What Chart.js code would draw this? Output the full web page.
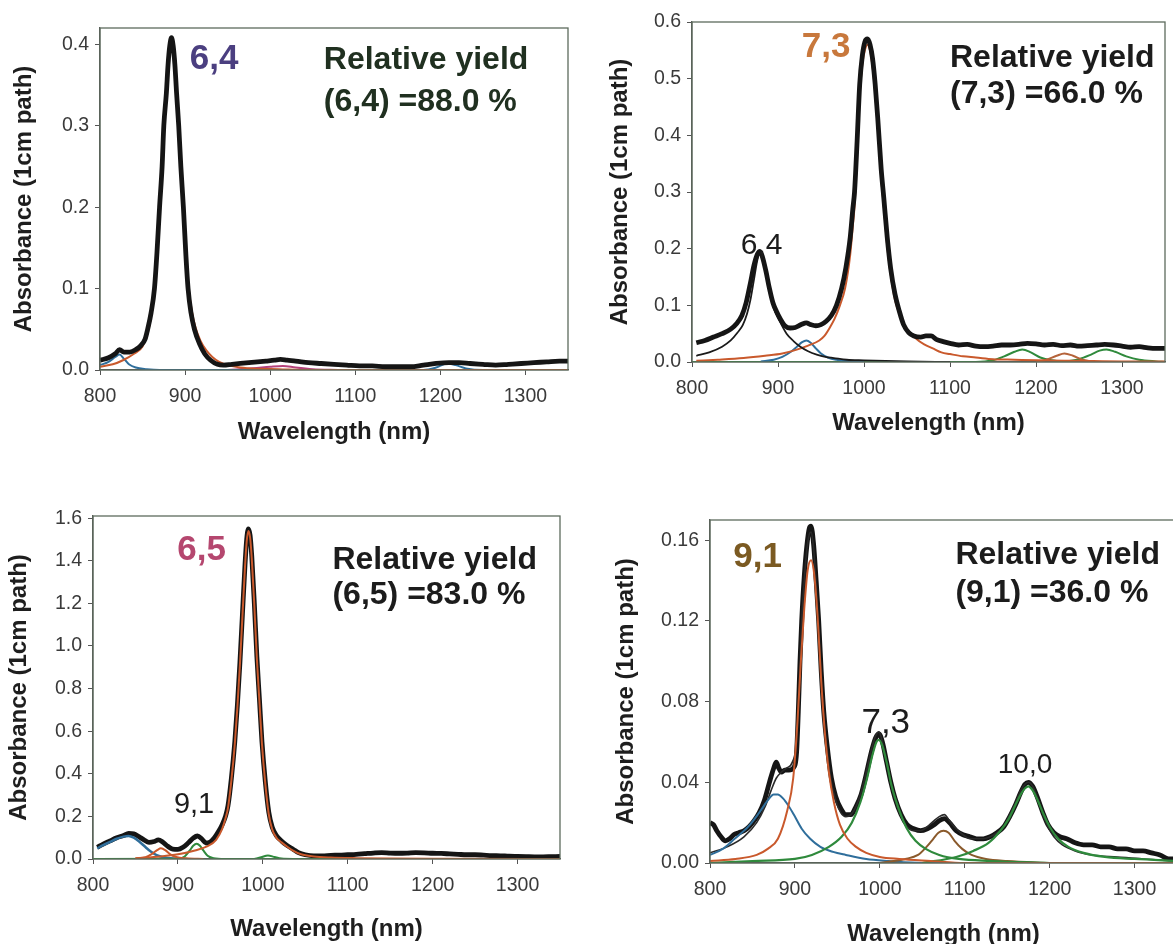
<!DOCTYPE html>
<html>
<head>
<meta charset="utf-8">
<script src="https://cdn.jsdelivr.net/npm/chart.js@4.4.1/dist/chart.umd.min.js"></script>
<style>
  body { margin: 0; background: #fff; width: 1173px; height: 944px; overflow: hidden; position: relative; }
  canvas { position: absolute; }
</style>
</head>
<body>
<canvas id="c64" width="586" height="470" style="left:0;top:0"></canvas>
<canvas id="c73" width="587" height="470" style="left:586px;top:0"></canvas>
<canvas id="c65" width="586" height="480" style="left:0;top:470px"></canvas>
<canvas id="c91" width="600" height="480" style="left:586px;top:470px"></canvas>
<script>
// wavelength ticks shared by all four spectra
var nmTicks = [800, 900, 1000, 1100, 1200, 1300];

// ---- (6,4) sample ----
var abs64Ticks = [0, 0.1, 0.2, 0.3, 0.4];
var meas64 = [[800,0.012],[810,0.015],[818,0.02],[823,0.025],[828,0.022],[835,0.022],[842,0.025],[848,0.03],[853,0.038],[856,0.05],[860,0.07],[864,0.1],[867,0.145],[870,0.2],[873,0.25],[875,0.3],[878,0.34],[880,0.375],[882,0.398],[884,0.408],[886,0.398],[888,0.375],[890,0.34],[892.5,0.3],[895,0.25],[898,0.2],[901,0.14],[903.5,0.1],[907,0.07],[911,0.05],[917,0.032],[923,0.02],[930,0.012],[938,0.007],[945,0.006],[955,0.007],[965,0.008],[975,0.009],[985,0.01],[995,0.011],[1005,0.012],[1012,0.013],[1020,0.012],[1030,0.011],[1045,0.009],[1060,0.008],[1075,0.007],[1090,0.006],[1105,0.005],[1120,0.005],[1135,0.004],[1150,0.004],[1165,0.004],[1180,0.006],[1195,0.008],[1210,0.009],[1222,0.009],[1235,0.008],[1250,0.007],[1265,0.006],[1280,0.007],[1295,0.008],[1310,0.009],[1325,0.01],[1340,0.011],[1350,0.011]];
var fit64main = [[800,0.004],[815,0.007],[827,0.012],[840,0.02],[850,0.029],[856,0.045],[860,0.066],[864,0.097],[867,0.14],[870,0.195],[873,0.245],[875,0.295],[878,0.335],[880,0.37],[882,0.393],[884,0.402],[886,0.393],[888,0.37],[890,0.335],[892.5,0.295],[895,0.245],[898,0.195],[901,0.142],[904,0.102],[908,0.072],[912,0.053],[918,0.036],[925,0.024],[932,0.016],[940,0.01],[950,0.006],[965,0.003],[985,0.0015],[1010,0.001],[1040,0],[1350,0]];
var fit64blue = [[800,0.006],[810,0.01],[818,0.016],[823,0.019],[828,0.014],[834,0.007],[842,0.003],[855,0.001],[870,0],[1180,0],[1195,0.003],[1208,0.008],[1218,0.006],[1230,0.002],[1250,0],[1350,0]];
var fit64pink = [[950,0],[980,0.002],[1000,0.004],[1015,0.005],[1030,0.003],[1050,0.001],[1080,0]];

// ---- (7,3) sample ----
var abs73Ticks = [0, 0.1, 0.2, 0.3, 0.4, 0.5, 0.6];
var meas73 = [[805,0.034],[815,0.038],[825,0.044],[835,0.05],[845,0.058],[852,0.068],[858,0.082],[863,0.105],[868,0.14],[872,0.17],[876,0.19],[879,0.195],[882,0.185],[886,0.16],[890,0.13],[894,0.105],[898,0.09],[903,0.075],[908,0.064],[914,0.06],[920,0.061],[927,0.066],[933,0.069],[938,0.066],[944,0.064],[950,0.066],[956,0.072],[962,0.082],[968,0.1],[974,0.13],[979,0.167],[984,0.22],[987,0.27],[989,0.3],[992,0.39],[995,0.49],[998,0.54],[1001,0.565],[1004,0.57],[1007,0.56],[1010,0.535],[1013,0.49],[1016,0.43],[1020,0.34],[1023,0.29],[1027,0.22],[1031,0.165],[1036,0.12],[1041,0.09],[1046,0.066],[1052,0.052],[1058,0.046],[1066,0.044],[1072,0.046],[1078,0.046],[1084,0.04],[1092,0.036],[1100,0.033],[1110,0.03],[1120,0.031],[1130,0.028],[1140,0.027],[1150,0.028],[1160,0.03],[1170,0.03],[1180,0.031],[1190,0.033],[1200,0.032],[1210,0.03],[1220,0.031],[1230,0.029],[1240,0.03],[1250,0.028],[1260,0.029],[1270,0.03],[1280,0.031],[1290,0.03],[1300,0.028],[1310,0.026],[1320,0.027],[1330,0.025],[1340,0.024],[1350,0.024]];
var fit73peak64 = [[805,0.011],[820,0.017],[835,0.027],[845,0.038],[853,0.052],[859,0.065],[864,0.085],[868,0.11],[872,0.145],[876,0.18],[879,0.193],[882,0.185],[886,0.155],[890,0.125],[895,0.095],[902,0.072],[910,0.05],[918,0.037],[926,0.027],[935,0.019],[945,0.013],[955,0.009],[965,0.007],[980,0.004],[1000,0.003],[1050,0.001],[1100,0]];
var fit73main = [[805,0.002],[830,0.004],[860,0.007],[885,0.011],[905,0.015],[920,0.021],[935,0.029],[948,0.038],[954,0.046],[960,0.06],[966,0.077],[972,0.1],[978,0.13],[984,0.19],[987,0.24],[989,0.275],[992,0.37],[995,0.47],[998,0.525],[1001,0.55],[1004,0.56],[1007,0.55],[1010,0.52],[1013,0.475],[1016,0.415],[1020,0.325],[1023,0.275],[1027,0.205],[1031,0.155],[1036,0.11],[1042,0.082],[1050,0.058],[1060,0.042],[1070,0.031],[1080,0.024],[1090,0.017],[1100,0.014],[1115,0.01],[1130,0.008],[1150,0.005],[1175,0.004],[1200,0.003],[1250,0.002],[1300,0.001],[1350,0.001]];
var fit73blue = [[880,0.001],[895,0.004],[905,0.009],[915,0.018],[922,0.027],[928,0.035],[933,0.038],[938,0.034],[944,0.024],[950,0.015],[958,0.008],[968,0.004],[985,0.001],[1000,0]];
var fit73greenA = [[800,0],[1130,0],[1150,0.003],[1163,0.01],[1175,0.018],[1184,0.022],[1194,0.017],[1205,0.008],[1218,0.003],[1240,0]];
var fit73brown = [[1200,0],[1212,0.004],[1224,0.011],[1233,0.015],[1243,0.011],[1254,0.004],[1270,0]];
var fit73greenB = [[1230,0],[1250,0.005],[1264,0.013],[1274,0.02],[1282,0.022],[1292,0.018],[1305,0.01],[1320,0.004],[1340,0.001],[1350,0]];

// ---- (6,5) sample ----
var abs65Ticks = [0, 0.2, 0.4, 0.6, 0.8, 1.0, 1.2, 1.4, 1.6];
var meas65 = [[805,0.055],[812,0.07],[820,0.085],[828,0.1],[836,0.11],[842,0.12],[848,0.118],[854,0.105],[860,0.09],[866,0.078],[872,0.082],[877,0.09],[882,0.08],[888,0.06],[894,0.046],[900,0.045],[906,0.055],[912,0.075],[918,0.098],[923,0.108],[928,0.095],[933,0.075],[938,0.08],[943,0.1],[948,0.13],[952,0.16],[956,0.2],[959,0.25],[963,0.38],[967,0.55],[970,0.72],[973,0.92],[976,1.15],[979,1.38],[981,1.5],[983,1.55],[985,1.52],[987,1.42],[990,1.2],[993,0.95],[996,0.75],[999,0.55],[1003,0.36],[1007,0.22],[1011,0.15],[1016,0.11],[1022,0.085],[1028,0.065],[1036,0.045],[1042,0.03],[1050,0.02],[1060,0.015],[1070,0.015],[1080,0.017],[1090,0.018],[1100,0.02],[1110,0.022],[1120,0.025],[1130,0.028],[1140,0.03],[1150,0.028],[1160,0.027],[1170,0.028],[1180,0.03],[1190,0.029],[1200,0.027],[1210,0.026],[1220,0.024],[1230,0.022],[1240,0.02],[1250,0.02],[1260,0.018],[1270,0.016],[1280,0.015],[1290,0.013],[1300,0.012],[1310,0.011],[1320,0.01],[1330,0.01],[1340,0.011],[1350,0.012]];
var fit65main = [[850,0.003],[880,0.012],[900,0.022],[920,0.04],[935,0.06],[945,0.09],[952,0.14],[956,0.19],[959,0.24],[963,0.37],[967,0.54],[970,0.71],[973,0.91],[976,1.14],[979,1.37],[981,1.49],[983,1.54],[985,1.51],[987,1.41],[990,1.19],[993,0.94],[996,0.74],[999,0.54],[1003,0.35],[1007,0.21],[1011,0.14],[1016,0.1],[1022,0.078],[1028,0.06],[1035,0.04],[1045,0.022],[1060,0.012],[1080,0.007],[1110,0.004],[1150,0.002],[1200,0.001],[1350,0]];
var fit65orange880 = [[850,0.002],[862,0.008],[870,0.025],[876,0.043],[880,0.05],[885,0.042],[891,0.022],[898,0.009],[910,0.003],[930,0]];
var fit65blue = [[805,0.05],[812,0.065],[820,0.08],[828,0.095],[836,0.105],[842,0.108],[848,0.1],[855,0.08],[862,0.055],[868,0.035],[875,0.018],[883,0.008],[895,0.002],[910,0]];
var fit65green91 = [[800,0],[900,0.001],[908,0.012],[914,0.04],[918,0.062],[922,0.072],[926,0.062],[930,0.04],[935,0.015],[942,0.004],[955,0],[1350,0]];
var fit65green1006 = [[990,0],[998,0.008],[1006,0.017],[1014,0.009],[1022,0.002],[1040,0]];

// ---- (9,1) sample ----
var abs91Ticks = [0, 0.04, 0.08, 0.12, 0.16];
var meas91 = [[800,0.02],[804,0.019],[808,0.016],[813,0.013],[818,0.011],[823,0.012],[828,0.014],[834,0.015],[840,0.016],[846,0.018],[852,0.021],[858,0.025],[864,0.031],[870,0.04],[875,0.047],[878,0.05],[881,0.047],[884,0.045],[888,0.046],[893,0.046],[898,0.047],[902,0.055],[904,0.075],[906,0.1],[908,0.12],[911,0.142],[914,0.157],[917,0.166],[919,0.167],[922,0.158],[925,0.14],[928,0.12],[931,0.095],[934,0.075],[938,0.058],[943,0.042],[948,0.033],[954,0.027],[960,0.024],[966,0.024],[972,0.028],[978,0.034],[984,0.044],[990,0.055],[995,0.062],[999,0.064],[1003,0.06],[1008,0.05],[1013,0.04],[1018,0.032],[1025,0.024],[1032,0.019],[1040,0.017],[1048,0.016],[1056,0.017],[1064,0.019],[1070,0.021],[1076,0.022],[1082,0.02],[1090,0.016],[1098,0.014],[1106,0.013],[1114,0.012],[1122,0.012],[1130,0.013],[1138,0.015],[1146,0.018],[1153,0.023],[1160,0.029],[1166,0.035],[1171,0.039],[1175,0.04],[1180,0.038],[1186,0.032],[1192,0.025],[1198,0.019],[1205,0.015],[1212,0.013],[1220,0.012],[1230,0.01],[1240,0.009],[1250,0.009],[1260,0.008],[1270,0.008],[1280,0.007],[1290,0.007],[1300,0.006],[1310,0.006],[1320,0.005],[1330,0.004],[1340,0.002],[1350,0.002]];
var fit91sum = [[800,0.005],[820,0.008],[840,0.013],[855,0.02],[865,0.028],[872,0.036],[878,0.042],[884,0.045],[890,0.047],[897,0.05],[902,0.06],[904,0.077],[906,0.1],[908,0.12],[911,0.14],[914,0.155],[917,0.163],[919,0.164],[922,0.156],[925,0.138],[928,0.118],[931,0.093],[934,0.073],[938,0.056],[943,0.04],[948,0.031],[954,0.025],[960,0.023],[966,0.024],[972,0.028],[978,0.035],[984,0.045],[990,0.056],[995,0.063],[999,0.065],[1003,0.06],[1008,0.05],[1013,0.04],[1018,0.031],[1025,0.023],[1032,0.018],[1040,0.016],[1048,0.016],[1056,0.018],[1064,0.021],[1070,0.023],[1076,0.024],[1082,0.021],[1090,0.017],[1098,0.014],[1106,0.012],[1114,0.012],[1122,0.012],[1130,0.013],[1138,0.015],[1146,0.018],[1153,0.024],[1160,0.03],[1166,0.036],[1171,0.039],[1175,0.04],[1180,0.038],[1186,0.032],[1192,0.024],[1198,0.018],[1205,0.013],[1215,0.009],[1230,0.006],[1250,0.004],[1280,0.003],[1310,0.002],[1350,0.001]];
var fit91blue = [[800,0.004],[815,0.007],[829,0.012],[845,0.018],[858,0.025],[868,0.031],[875,0.034],[880,0.034],[886,0.032],[893,0.028],[900,0.023],[908,0.017],[918,0.012],[930,0.008],[945,0.0055],[960,0.004],[984,0.002],[1010,0.001],[1050,0],[1350,0]];
var fit91main = [[800,0.001],[830,0.002],[855,0.004],[868,0.007],[880,0.012],[891,0.026],[898,0.042],[903,0.07],[907,0.1],[911,0.126],[915,0.145],[919,0.15],[923,0.142],[927,0.12],[931,0.09],[935,0.066],[940,0.045],[946,0.03],[953,0.019],[962,0.012],[972,0.008],[984,0.005],[1000,0.003],[1023,0.002],[1060,0.001],[1100,0],[1350,0]];
var fit91green73 = [[800,0],[850,0.001],[900,0.002],[920,0.004],[940,0.008],[955,0.013],[967,0.02],[977,0.03],[985,0.042],[991,0.053],[996,0.06],[999,0.061],[1003,0.058],[1008,0.05],[1014,0.038],[1023,0.026],[1032,0.017],[1042,0.011],[1054,0.007],[1070,0.004],[1093,0.002],[1130,0.001],[1200,0]];
var fit91brown = [[1000,0],[1030,0.002],[1045,0.004],[1055,0.008],[1063,0.012],[1069,0.015],[1075,0.016],[1081,0.015],[1088,0.011],[1097,0.007],[1108,0.004],[1125,0.002],[1150,0.001],[1200,0]];
var fit91green100 = [[1050,0],[1090,0.003],[1110,0.006],[1128,0.01],[1142,0.016],[1152,0.022],[1160,0.029],[1166,0.034],[1171,0.037],[1175,0.038],[1180,0.036],[1186,0.031],[1193,0.024],[1200,0.018],[1210,0.012],[1222,0.008],[1240,0.005],[1265,0.003],[1300,0.002],[1350,0.001]];

var BLACK = '#151515', ORANGE = '#c9592c', BLUE = '#2f6e9b', GREEN = '#2f8a3c',
    BROWN = '#8a5a2c', PINK = '#b5427b', RUST = '#b5633a';
var FONT = '"Liberation Sans", Arial, sans-serif';

function line(points, color, width) {
  return {
    data: points.map(function (p) { return { x: p[0], y: p[1] }; }),
    borderColor: color,
    borderWidth: width,
    pointRadius: 0,
    fill: false,
    tension: 0.4,
    cubicInterpolationMode: 'monotone'
  };
}

// frame round the plot area and the text annotations
var panelText = {
  id: 'panelText',
  afterDraw: function (chart, args, opts) {
    var ctx = chart.ctx, a = chart.chartArea;
    ctx.save();
    ctx.strokeStyle = '#5d6b5d';
    ctx.lineWidth = 1.3;
    ctx.strokeRect(a.left, a.top, a.right - a.left, a.bottom - a.top);
    (opts.items || []).forEach(function (t) {
      ctx.font = t.font;
      ctx.fillStyle = t.color || '#1c1c1c';
      ctx.textAlign = t.align || 'left';
      ctx.textBaseline = 'middle';
      ctx.fillText(t.text, chart.scales.x.getPixelForValue(t.nm), chart.scales.y.getPixelForValue(t.abs));
    });
    ctx.restore();
  }
};

function panel(id, p) {
  return new Chart(document.getElementById(id), {
    type: 'line',
    data: { datasets: p.datasets },
    plugins: [panelText],
    options: {
      responsive: false,
      animation: false,
      layout: { padding: p.padding },
      plugins: { legend: { display: false }, tooltip: { enabled: false }, panelText: { items: p.text } },
      scales: {
        x: {
          type: 'linear', min: 800, max: 1350,
          afterBuildTicks: function (ax) { ax.ticks = nmTicks.map(function (v) { return { value: v }; }); },
          afterFit: function (ax) { ax.height = p.xHeight; },
          ticks: { color: '#3a3a3a', font: { family: FONT, size: 19.5 }, padding: 10, maxRotation: 0,
                   callback: function (v) { return String(v); } },
          grid: { drawOnChartArea: false, tickLength: 5, color: '#555' },
          border: { color: '#555', width: 1.3 },
          title: { display: true, text: 'Wavelength (nm)', color: '#1e1e1e',
                   font: { family: FONT, size: 24, weight: 'bold' }, padding: { top: 0, bottom: p.xTitlePad } }
        },
        y: {
          type: 'linear', min: 0, max: p.yMax,
          afterBuildTicks: function (ax) { ax.ticks = p.yTicks.map(function (v) { return { value: v }; }); },
          afterFit: function (ax) { ax.width = p.yWidth; },
          ticks: { color: '#3a3a3a', font: { family: FONT, size: 19.5 }, padding: 6,
                   callback: function (v) { return Number(v).toFixed(p.digits); } },
          grid: { drawOnChartArea: false, tickLength: 5, color: '#555' },
          border: { color: '#555', width: 1.3 },
          title: { display: true, text: 'Absorbance (1cm path)', color: '#1e1e1e',
                   font: { family: FONT, size: 24, weight: 'bold' }, padding: { top: p.yTitlePad, bottom: 0 } }
        }
      }
    }
  });
}

var big = 'bold 32px ' + FONT;
var tag = 'bold 35px ' + FONT;

panel('c64', {
  yMax: 0.42, yTicks: abs64Ticks, digits: 1,
  padding: { left: 0, top: 28, right: 18, bottom: 0 }, yWidth: 100, xHeight: 100,
  yTitlePad: 10, xTitlePad: 23,
  datasets: [
    line(meas64, BLACK, 4.8),
    line(fit64main, ORANGE, 2),
    line(fit64blue, BLUE, 2),
    line(fit64pink, PINK, 2)
  ],
  text: [
    { text: '6,4', nm: 934, abs: 0.382, font: tag, color: '#4b3f80', align: 'center' },
    { text: 'Relative yield', nm: 1063, abs: 0.381, font: big, color: '#203020' },
    { text: '(6,4) =88.0 %', nm: 1063, abs: 0.329, font: big, color: '#203020' }
  ]
});

panel('c73', {
  yMax: 0.6, yTicks: abs73Ticks, digits: 1,
  padding: { left: 0, top: 22, right: 8, bottom: 0 }, yWidth: 106, xHeight: 108,
  yTitlePad: 20, xTitlePad: 32,
  datasets: [
    line(meas73, BLACK, 4.8),
    line(fit73peak64, '#1a1a1a', 1.8),
    line(fit73main, ORANGE, 2),
    line(fit73blue, BLUE, 2),
    line(fit73brown, RUST, 2),
    line(fit73greenA, GREEN, 2),
    line(fit73greenB, GREEN, 2)
  ],
  text: [
    { text: '7,3', nm: 956, abs: 0.555, font: tag, color: '#c8783c', align: 'center' },
    { text: 'Relative yield', nm: 1100, abs: 0.536, font: big },
    { text: '(7,3) =66.0 %', nm: 1100, abs: 0.472, font: big },
    { text: '6,4', nm: 881, abs: 0.206, font: '30px ' + FONT, align: 'center' }
  ]
});

panel('c65', {
  yMax: 1.61, yTicks: abs65Ticks, digits: 1,
  padding: { left: 0, top: 46, right: 26, bottom: 0 }, yWidth: 93, xHeight: 91,
  yTitlePad: 5, xTitlePad: 6,
  datasets: [
    line(fit65main, ORANGE, 2),
    line(fit65orange880, ORANGE, 2),
    line(fit65green91, GREEN, 2),
    line(fit65green1006, GREEN, 2),
    line(fit65blue, BLUE, 2.5),
    line(meas65, BLACK, 4.8)
  ],
  text: [
    { text: '6,5', nm: 928, abs: 1.45, font: tag, color: '#b5476f', align: 'center' },
    { text: 'Relative yield', nm: 1082, abs: 1.404, font: big },
    { text: '(6,5) =83.0 %', nm: 1082, abs: 1.24, font: big },
    { text: '9,1', nm: 919, abs: 0.253, font: '29px ' + FONT, align: 'center' }
  ]
});

panel('c91', {
  yMax: 0.17, yTicks: abs91Ticks, digits: 2,
  padding: { left: 0, top: 50, right: 9, bottom: 0 }, yWidth: 124, xHeight: 87,
  yTitlePad: 26, xTitlePad: 1,
  datasets: [
    line(fit91main, ORANGE, 2),
    line(fit91green73, GREEN, 2.2),
    line(fit91green100, GREEN, 2.2),
    line(fit91brown, BROWN, 2),
    line(fit91blue, BLUE, 2),
    line(fit91sum, '#2a2a2a', 1.6),
    line(meas91, BLACK, 4.8)
  ],
  text: [
    { text: '9,1', nm: 856, abs: 0.1517, font: tag, color: '#7b5a22', align: 'center' },
    { text: 'Relative yield', nm: 1089, abs: 0.1525, font: big },
    { text: '(9,1) =36.0 %', nm: 1089, abs: 0.1335, font: big },
    { text: '7,3', nm: 1007, abs: 0.0691, font: '35px ' + FONT, align: 'center' },
    { text: '10,0', nm: 1171, abs: 0.0484, font: '28px ' + FONT, align: 'center' }
  ]
});
</script>
</body>
</html>
